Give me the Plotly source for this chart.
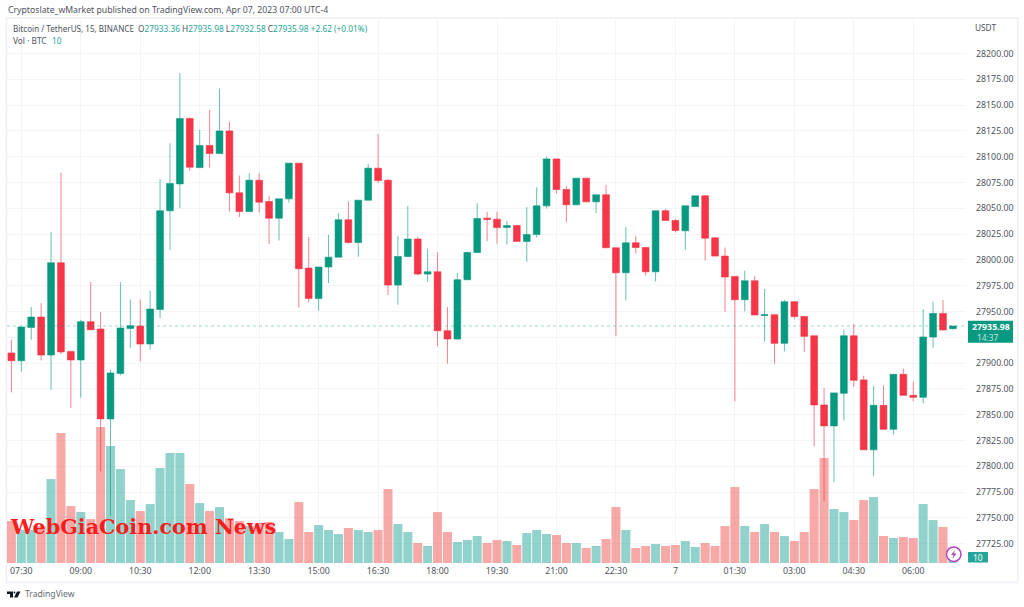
import pandas as pd
import plotly.graph_objects as go

open_ = [27909.8,27902.3,27934.6,27944.6,27907.8,27997.2,27911.3,27903.0,27940.1,27933.0,27845.9,27890.0,
 27933.6,27935.9,27918.5,27952.0,28047.6,28073.7,28137.0,28089.5,28110.8,28103.1,28125.0,28065.0,
 28046.9,28077.3,28056.6,28040.5,28059.2,28093.8,27992.1,27962.7,27993.1,28002.7,28038.9,28016.9,
 28057.9,28088.9,28077.3,27975.6,28003.3,28020.2,27986.3,27988.5,27931.4,27923.3,27980.8,28007.2,
 28040.5,28039.5,28031.4,28033.3,28017.9,28024.6,28052.4,28097.9,28068.2,28053.4,28079.2,28056.3,
 28063.1,28011.8,27987.5,28016.6,28012.0,27988.5,28047.6,28038.2,28028.2,28051.7,28062.1,28021.4,
 28003.7,27984.0,27961.4,27979.8,27946.2,27946.9,27919.1,27959.5,27945.2,27926.5,27859.4,27839.1,
 27870.7,27926.5,27883.7,27815.9,27859.0,27835.8,27889.1,27868.7,27866.8,27925.3,27948.1,27933.36]
high = [27922.7,27935.0,27954.3,27958.2,28027.0,28084.7,27911.3,27942.0,27978.5,27949.5,27893.6,27978.5,
 27961.7,27961.4,27970.1,28078.3,28113.1,28180.9,28138.3,28126.0,28145.4,28166.0,28133.8,28081.8,
 28084.1,28084.1,28062.1,28059.2,28093.8,28093.8,28022.1,27993.1,28024.3,28045.4,28056.6,28057.9,
 28093.1,28121.9,28078.3,28023.4,28052.4,28022.4,28010.8,28007.6,27954.3,27987.3,28008.2,28055.0,
 28046.6,28046.6,28037.6,28033.3,28051.2,28070.5,28100.2,28097.9,28071.5,28079.2,28079.2,28063.1,
 28072.8,28011.8,28031.8,28023.4,28012.0,28047.6,28049.5,28039.8,28052.4,28062.1,28062.8,28021.4,
 28012.0,27984.0,27989.5,27984.6,27971.8,27946.9,27961.4,27959.5,27945.2,27926.5,27875.9,27871.1,
 27932.4,27937.9,27887.8,27877.8,27878.4,27889.1,27894.6,27882.0,27952.4,27959.5,27961.1,27935.98]
low = [27871.6,27891.7,27922.7,27902.6,27874.0,27908.8,27856.5,27866.5,27932.3,27795.1,27752.2,27888.1,
 27914.9,27901.4,27913.0,27943.7,28009.8,28050.2,28086.3,28088.9,28089.5,28103.1,28046.9,28041.5,
 28046.9,28045.9,28015.3,28018.8,28055.6,27953.9,27958.8,27950.7,27977.6,28002.7,28015.6,28003.0,
 28057.9,28074.4,27965.9,27956.6,28003.3,27984.9,27978.8,27916.2,27899.4,27923.3,27980.8,28007.2,
 28018.2,28015.6,28014.9,28017.9,27998.2,28021.7,28049.8,28064.3,28036.6,28052.7,28056.3,28045.4,
 28011.8,27926.5,27960.7,28006.2,27984.9,27979.1,28038.2,28026.6,28009.5,28051.7,27999.5,28003.7,
 27949.8,27862.9,27950.1,27946.6,27921.0,27899.4,27911.3,27942.3,27910.8,27819.3,27766.1,27784.5,
 27844.5,27876.9,27815.9,27790.3,27835.8,27830.7,27868.7,27862.9,27861.0,27914.9,27931.7,27932.58]
close = [27902.3,27935.0,27944.6,27907.8,27997.2,27910.8,27903.0,27940.1,27932.3,27845.9,27890.4,27934.0,
 27936.2,27918.5,27952.4,28047.6,28074.0,28137.0,28089.9,28110.8,28103.1,28125.0,28065.0,28046.9,
 28077.3,28056.0,28040.5,28059.2,28093.8,27991.4,27962.7,27993.1,28002.7,28038.9,28016.9,28057.9,
 28088.9,28076.9,27975.6,28003.3,28020.2,27986.3,27988.5,27931.4,27923.3,27980.8,28007.2,28040.1,
 28039.2,28031.4,28033.3,28017.9,28024.6,28052.4,28097.9,28068.2,28053.4,28079.2,28056.3,28063.1,
 28011.8,27987.5,28016.6,28012.0,27988.5,28047.6,28038.2,28028.5,28052.4,28062.1,28021.1,28003.7,
 27983.4,27961.4,27979.8,27946.6,27946.9,27919.1,27959.5,27945.2,27925.9,27859.4,27839.1,27871.1,
 27926.5,27883.3,27815.9,27859.0,27835.8,27889.1,27868.7,27866.8,27925.3,27948.1,27932.1,27935.98]
volume = [210,165,165,185,420,650,285,255,220,680,585,470,315,260,295,475,550,550,395,300,260,280,225,210,
 185,200,205,155,120,305,155,190,165,145,175,165,155,165,370,195,155,100,85,255,155,105,115,135,
 100,115,110,90,150,165,145,140,100,100,75,85,120,280,165,75,85,95,85,90,110,80,100,85,
 185,380,185,155,195,155,135,110,155,370,525,270,255,215,315,330,135,125,130,125,295,215,180,10]

times = pd.date_range("2023-04-06 07:15", periods=96, freq="15min")
tick_times = ["2023-04-06 07:30","2023-04-06 09:00","2023-04-06 10:30","2023-04-06 12:00","2023-04-06 13:30",
 "2023-04-06 15:00","2023-04-06 16:30","2023-04-06 18:00","2023-04-06 19:30","2023-04-06 21:00",
 "2023-04-06 22:30","2023-04-07 00:00","2023-04-07 01:30","2023-04-07 03:00","2023-04-07 04:30","2023-04-07 06:00"]
tick_labels = ["07:30","09:00","10:30","12:00","13:30","15:00","16:30","18:00","19:30","21:00","22:30","7",
 "01:30","03:00","04:30","06:00"]
price_ticks = [27725 + 25 * k for k in range(20)]
last_price = 27935.98

W, H = 1024, 607
L, R, T, B = 7, 966, 18, 563.5
GREEN, RED = "#089981", "#F63549"
FONT = "Noto Sans"
px = lambda v: (v - L) / (R - L)
py = lambda v: (B - v) / (B - T)

fig = go.Figure()
fig.add_bar(x=times, y=volume, yaxis="y",
            marker=dict(color=["rgba(38,166,154,0.5)" if c >= o else "rgba(239,83,80,0.5)" for o, c in zip(open_, close)],
                        line=dict(width=0)), showlegend=False)
fig.add_candlestick(x=times, open=open_, high=high, low=low, close=close, yaxis="y2", whiskerwidth=0,
                    increasing=dict(fillcolor=GREEN, line=dict(color="rgba(8,153,129,0.62)", width=1)),
                    decreasing=dict(fillcolor=RED, line=dict(color="rgba(242,54,69,0.62)", width=1)),
                    showlegend=False)

shapes = [
    dict(type="rect", xref="paper", yref="paper", x0=px(6.5), x1=px(1018), y0=py(583), y1=py(18),
         line=dict(color="#eef0f5", width=1.5), layer="below"),
    dict(type="line", xref="paper", yref="y2", x0=0, x1=1, y0=last_price, y1=last_price,
         line=dict(color="rgba(8,153,129,0.4)", width=1, dash="dot")),
    dict(type="rect", xref="paper", yref="paper", x0=px(968), x1=px(1013), y0=py(343), y1=py(321),
         fillcolor="#089981", line=dict(width=0)),
    dict(type="rect", xref="paper", yref="paper", x0=px(968), x1=px(988), y0=py(563), y1=py(552.5),
         fillcolor="#26a69a", line=dict(width=0)),
    dict(type="circle", xref="paper", yref="paper", x0=px(946.5), x1=px(961), y0=py(562), y1=py(547.5),
         fillcolor="white", line=dict(color="#ab47bc", width=1.5)),
    dict(type="path", xref="paper", yref="paper", fillcolor="#ab47bc", line=dict(width=0),
         path=f"M {px(955)} {py(550.5)} L {px(951)} {py(555.5)} L {px(953.5)} {py(555.5)} L {px(952.5)} {py(559.5)} "
              f"L {px(956.5)} {py(554)} L {px(954)} {py(554)} Z"),
    dict(type="path", xref="paper", yref="paper", fillcolor="#131722", line=dict(width=0),
         path=f"M {px(7)} {py(592)} L {px(13)} {py(592)} L {px(13)} {py(598)} L {px(10)} {py(598)} L {px(10)} {py(594.5)} L {px(7)} {py(594.5)} Z"),
    dict(type="circle", xref="paper", yref="paper", fillcolor="#131722", line=dict(width=0),
         x0=px(13.6), x1=px(15.4), y0=py(594), y1=py(592)),
    dict(type="path", xref="paper", yref="paper", fillcolor="#131722", line=dict(width=0),
         path=f"M {px(17)} {py(592)} L {px(20.5)} {py(592)} L {px(17.5)} {py(598)} L {px(14)} {py(598)} Z"),
]

def note(x, y, text, size=8.3, color="#50535e", anchor="left", family=FONT, yanchor="middle"):
    return dict(xref="paper", yref="paper", x=px(x), y=py(y), text=text, showarrow=False, xanchor=anchor,
                yanchor=yanchor, align=anchor, font=dict(family=family, size=size, color=color))

VAL = "#26a69a"
def v(s):
    return f'<span style="color:{VAL}">{s}</span>'

annotations = [
    note(6, 10, "Cryptoslate_wMarket published on TradingView.com, Apr 07, 2023 07:00 UTC-4", 8.7),
    note(10.5, 29, "Bitcoin / TetherUS, 15, BINANCE", 8.1),
    note(135.5, 29, "O" + v("27933.36") + " H" + v("27935.98") + " L" + v("27932.58") + " C" + v("27935.98") + " " + v("+2.62 (+0.01%)"), 8.3),
    note(10.5, 41, "Vol · BTC", 8.3),
    note(49.5, 41, v("10"), 8.3),
    note(973.5, 28, "USDT", 8.3),
    note(990.5, 327.5, "<b>27935.98</b>", 8.8, "white", "center"),
    note(975, 337.5, "14:37", 8.3, "rgba(255,255,255,0.75)"),
    note(978, 558, "10", 8.5, "white", "center"),
    note(23, 595, "TradingView", 8.6, "#666a73"),
    note(8, 527.5, "<b>WebGiaCoin.com News</b>", 20.7, "#F81D1D", family="DejaVu Serif"),
]

fig.update_layout(
    width=W, height=H, margin=dict(l=L, r=W - R, t=T, b=H - B), paper_bgcolor="white", plot_bgcolor="white",
    bargap=0.09, boxgap=0.03, dragmode=False, showlegend=False, shapes=shapes, annotations=annotations,
    xaxis=dict(type="date", range=["2023-04-06 07:08:20", "2023-04-07 07:19:50"], rangeslider=dict(visible=False),
               tickmode="array", tickvals=tick_times, ticktext=tick_labels, showgrid=True, gridcolor="#f3f4f6",
               gridwidth=1, zeroline=False, showline=False, ticks="", ticklabelstandoff=1,
               tickfont=dict(family=FONT, size=8.8, color="#50535e")),
    yaxis=dict(range=[0, 2727.5], visible=False, showgrid=False, fixedrange=True),
    yaxis2=dict(overlaying="y", side="right", range=[27706.2, 28234.5], tickmode="array", tickvals=price_ticks,
                ticktext=[("" if p == 27925 else f"{p:.2f}") for p in price_ticks], showgrid=True,
                gridcolor="#f3f4f6", gridwidth=1,
                zeroline=False, showline=False, ticks="", ticklabelstandoff=9, fixedrange=True,
                tickfont=dict(family=FONT, size=8.8, color="#50535e")),
)
fig.write_html("out.html", config=dict(displayModeBar=False),
               post_script="document.body.style.margin='0';document.documentElement.style.overflow='hidden';")
